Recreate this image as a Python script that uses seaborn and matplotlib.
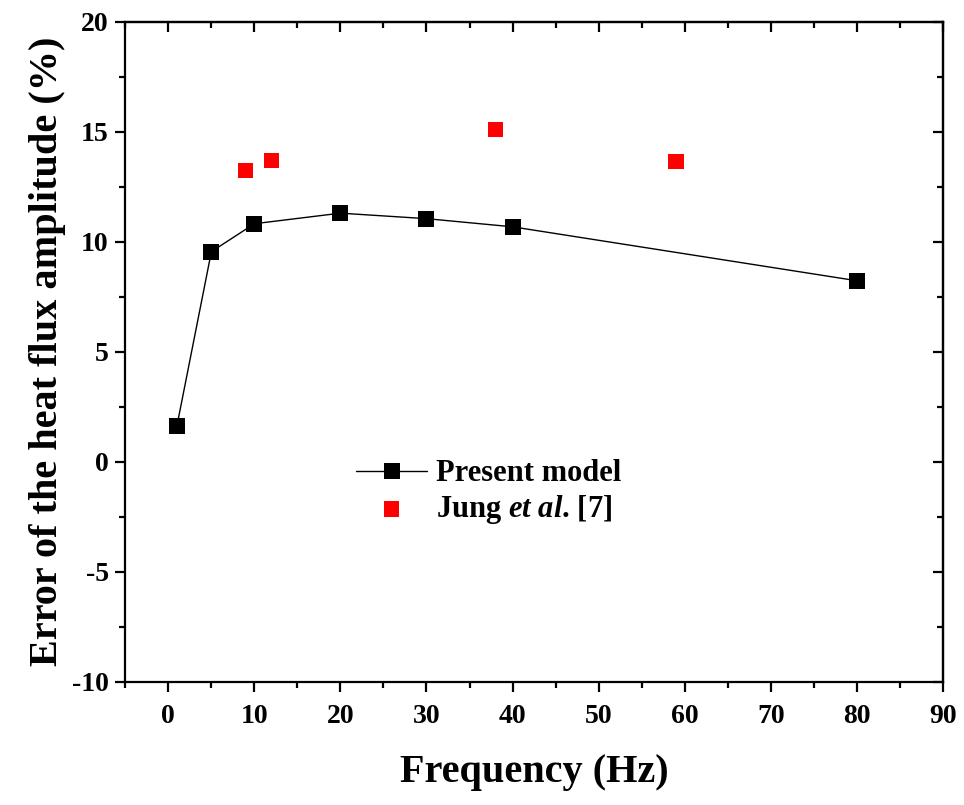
import matplotlib
matplotlib.use("Agg")
import matplotlib.pyplot as plt
import seaborn as sns
from matplotlib.ticker import MultipleLocator

# Data
freq_model = [1, 5, 10, 20, 30, 40, 80]
err_model = [1.64, 9.55, 10.82, 11.3, 11.05, 10.68, 8.23]
freq_jung = [9, 12, 38, 59]
err_jung = [13.23, 13.68, 15.09, 13.64]

sns.set_style("ticks")
plt.rcParams['font.family'] = ['Liberation Serif', 'DejaVu Serif']
plt.rcParams['font.weight'] = 'bold'
plt.rcParams['mathtext.fontset'] = 'custom'
plt.rcParams['mathtext.it'] = 'Liberation Serif:italic:bold'
plt.rcParams['mathtext.rm'] = 'Liberation Serif:bold'
plt.rcParams['axes.unicode_minus'] = False
for k in ['text.color', 'axes.labelcolor', 'xtick.color', 'ytick.color', 'axes.edgecolor']:
    plt.rcParams[k] = 'black'

fig = plt.figure(figsize=(9.64, 8.05), dpi=100)
ax = fig.add_axes([0.130, 0.153, 0.848, 0.820])

sns.lineplot(x=freq_model, y=err_model, ax=ax, color='black', lw=1.0,
             marker='s', markersize=11, markeredgewidth=0,
             label='Present model')
sns.scatterplot(x=freq_jung, y=err_jung, ax=ax, color='#ff0000', marker='s',
                s=121, edgecolor='none', linewidth=0,
                label=r'Jung $\mathit{et\ al}$. [7]')

ax.set_xlim(-5, 90)
ax.set_ylim(-10, 20)
ax.xaxis.set_major_locator(MultipleLocator(10))
ax.xaxis.set_minor_locator(MultipleLocator(5))
ax.yaxis.set_major_locator(MultipleLocator(5))
ax.yaxis.set_minor_locator(MultipleLocator(2.5))

for s in ax.spines.values():
    s.set_linewidth(1.6)
    s.set_visible(True)
    s.set_color('black')

ax.tick_params(which='major', direction='out', length=7, width=1.6,
               labelsize=20)
ax.tick_params(axis='x', which='major', pad=9)
ax.tick_params(axis='y', which='major', pad=5)
ax.tick_params(which='minor', direction='out', length=4, width=1.6)
for lab in ax.get_xticklabels() + ax.get_yticklabels():
    lab.set_fontweight('bold')

# mirrored ticks on top/right pointing inward
secx = ax.secondary_xaxis('top')
secx.xaxis.set_major_locator(MultipleLocator(10))
secx.xaxis.set_minor_locator(MultipleLocator(5))
secx.tick_params(which='major', direction='in', length=7, width=1.6, labeltop=False)
secx.tick_params(which='minor', direction='in', length=4, width=1.6)
secy = ax.secondary_yaxis('right')
secy.yaxis.set_major_locator(MultipleLocator(5))
secy.yaxis.set_minor_locator(MultipleLocator(2.5))
secy.tick_params(which='major', direction='in', length=7, width=1.6, labelright=False)
secy.tick_params(which='minor', direction='in', length=4, width=1.6)
secx.spines['top'].set_linewidth(1.6)
secy.spines['right'].set_linewidth(1.6)

ax.set_xlabel('Frequency (Hz)', fontsize=29, fontweight='bold', labelpad=18)
ax.set_ylabel('Error of the heat flux amplitude (%)', fontsize=29,
              fontweight='bold', labelpad=4)

leg = ax.legend(loc='upper left', bbox_to_anchor=(0.264, 0.360), frameon=False,
                fontsize=22, handlelength=2.3, handletextpad=0.3,
                labelspacing=0.15, borderpad=0)
for t in leg.get_texts():
    t.set_fontweight('bold')
    t.set_color('black')

fig.savefig('out.png', dpi=100)
